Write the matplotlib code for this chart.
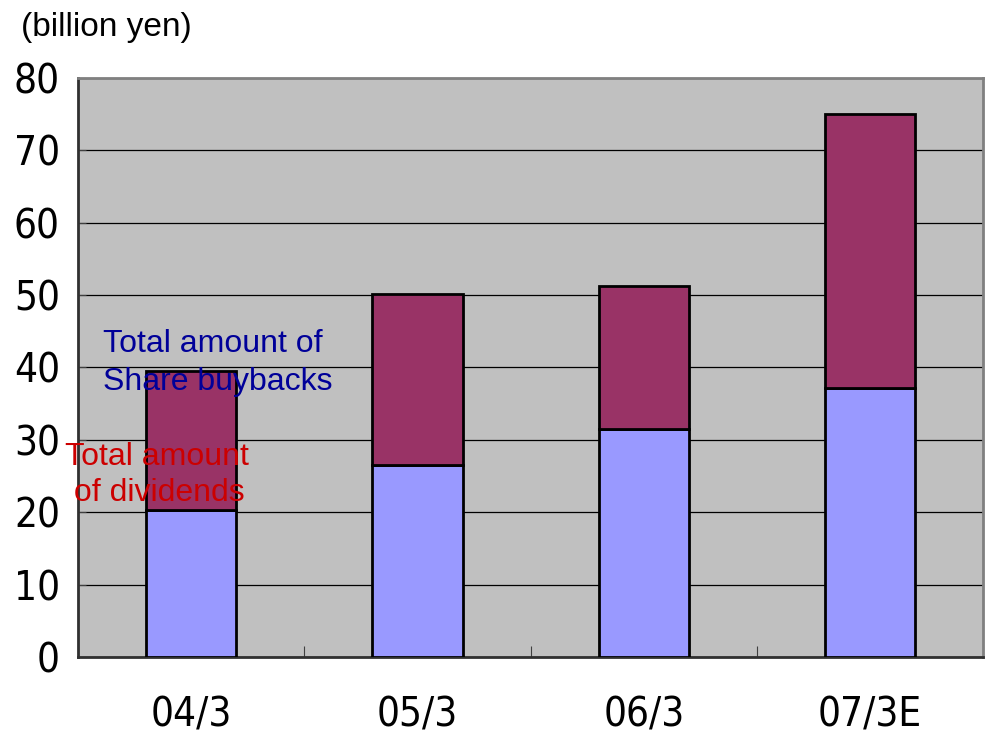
import matplotlib.pyplot as plt
import numpy as np

# fiscal years and values (billion yen)
years = ['04/3', '05/3', '06/3', '07/3E']
dividends = [20.3, 26.5, 31.5, 37.2]
buybacks = [19.2, 23.6, 19.7, 37.8]

fig = plt.figure(figsize=(9.85, 7.54), dpi=100)
ax = fig.add_axes([0.0792, 0.1286, 0.919, 0.7680])
ax.set_facecolor('#C0C0C0')

x = np.arange(len(years))
w = 0.4
ax.bar(x, dividends, width=w, color='#9999FF', edgecolor='black', linewidth=2, zorder=3)
ax.bar(x, buybacks, width=w, bottom=dividends, color='#993366', edgecolor='black', linewidth=2, zorder=3)

ax.set_xlim(-0.5, 3.5)
ax.set_ylim(0, 80)
ax.set_yticks(range(0, 81, 10))
ax.yaxis.grid(True, color='black', linewidth=0.9, zorder=1)
ax.set_axisbelow(True)

# category boundary ticks on x axis, labels centred
ax.set_xticks(np.arange(-0.5, 4, 1))
ax.set_xticklabels([])
ax.set_xticks(x, minor=True)
ax.set_xticklabels(years, minor=True)
ax.tick_params(axis='x', which='major', direction='in', length=8, color='#404040')
ax.tick_params(axis='x', which='minor', length=0, pad=28)
ax.tick_params(axis='y', direction='in', length=6, pad=13, color='#404040')

for lab in ax.get_yticklabels() + ax.get_xticklabels(minor=True):
    lab.set_fontfamily('DejaVu Sans')
    lab.set_fontstretch('condensed')
    lab.set_fontsize(29)

for side in ['left', 'bottom']:
    ax.spines[side].set_color('#303030')
    ax.spines[side].set_linewidth(2)
for side in ['top', 'right']:
    ax.spines[side].set_color('#808080')
    ax.spines[side].set_linewidth(2)

fig.text(0.021, 0.964, '(billion yen)', fontsize=24, family='Liberation Sans', va='center')
ax.text(-0.389, 40.6, 'Total amount of\nShare buybacks', color='#000099', fontsize=23,
        family='Liberation Sans', va='center', linespacing=1.35, zorder=5)
ax.text(-0.557, 25.1, 'Total amount\n of dividends', color='#CC0000', fontsize=23,
        family='Liberation Sans', va='center', linespacing=1.25, zorder=5, clip_on=False)

fig.savefig('out.png', dpi=100)
